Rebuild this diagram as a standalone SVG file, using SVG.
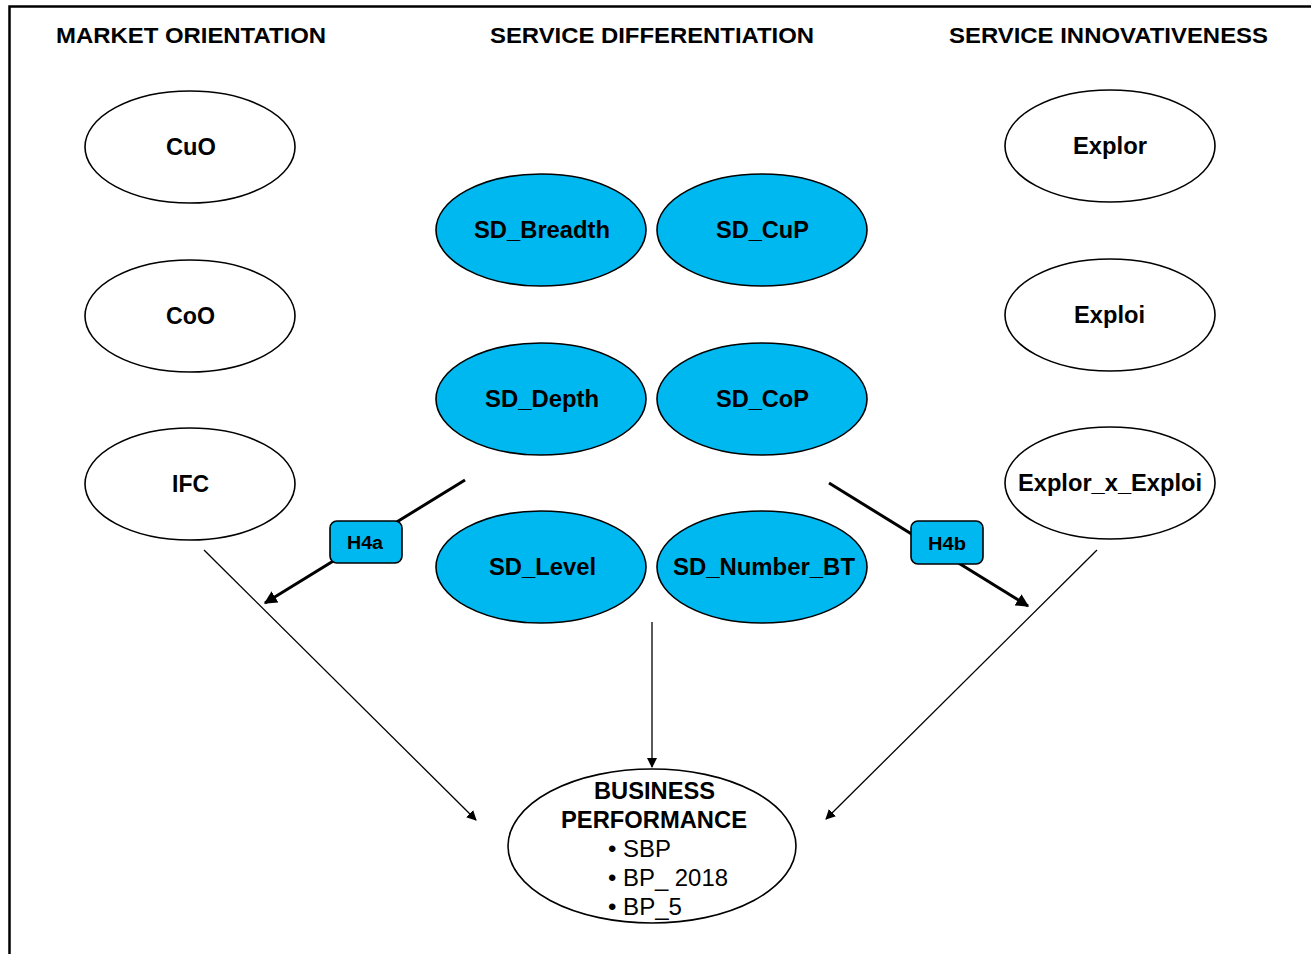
<svg xmlns="http://www.w3.org/2000/svg" width="1311" height="954" viewBox="0 0 1311 954">
  <defs>
    <style>
      .title { font-family: "Liberation Sans", Arial, sans-serif; font-weight: bold; font-size: 22px; text-anchor: middle; fill: #000; }
      .lbl { font-family: "Liberation Sans", Arial, sans-serif; font-weight: bold; font-size: 23px; text-anchor: middle; fill: #000; }
      .item { font-family: "Liberation Sans", Arial, sans-serif; font-size: 23.5px; fill: #000; }
      .hyp { font-family: "Liberation Sans", Arial, sans-serif; font-weight: bold; font-size: 18px; text-anchor: middle; fill: #000; }
      .white { fill: #fff; stroke: #000; stroke-width: 1.6; }
      .blue { fill: #00B8F0; stroke: #000; stroke-width: 1.6; }
      .thin { stroke: #000; stroke-width: 1.3; fill: none; }
      .thick { stroke: #000; stroke-width: 3; fill: none; }
    </style>
    <marker id="arrowThin" viewBox="0 0 10 10" refX="9" refY="5" markerWidth="10" markerHeight="10" markerUnits="userSpaceOnUse" orient="auto">
      <path d="M0,0 L10,5 L0,10 z" fill="#000"/>
    </marker>
    <marker id="arrowThick" viewBox="0 0 10 10" refX="9" refY="5" markerWidth="13" markerHeight="13" markerUnits="userSpaceOnUse" orient="auto">
      <path d="M0,0 L10,5 L0,10 z" fill="#000"/>
    </marker>
  </defs>

  <rect width="1311" height="954" fill="#fff"/>
  <!-- outer frame, open on the right and bottom -->
  <path d="M9.5,954 L9.5,6.5 L1311,6.5" fill="none" stroke="#000" stroke-width="2.5"/>

  <!-- column titles -->
  <text class="title" x="191" y="43" textLength="270" lengthAdjust="spacingAndGlyphs">MARKET ORIENTATION</text>
  <text class="title" x="652" y="43" textLength="324" lengthAdjust="spacingAndGlyphs">SERVICE DIFFERENTIATION</text>
  <text class="title" x="1108.5" y="43" textLength="319" lengthAdjust="spacingAndGlyphs">SERVICE INNOVATIVENESS</text>

  <!-- connectors -->
  <g id="connectors">
    <line class="thin" x1="204" y1="550" x2="476" y2="820" marker-end="url(#arrowThin)"/>
    <line class="thin" x1="652" y1="622" x2="652" y2="767" marker-end="url(#arrowThin)"/>
    <line class="thin" x1="1097" y1="550" x2="826" y2="819" marker-end="url(#arrowThin)"/>
    <line class="thick" x1="465" y1="480" x2="265" y2="603" marker-end="url(#arrowThick)"/>
    <line class="thick" x1="829" y1="483" x2="1028" y2="606" marker-end="url(#arrowThick)"/>
    <g id="h4a">
      <rect class="blue" x="330" y="521" width="72" height="42" rx="7"/>
      <text class="hyp" x="365" y="549" textLength="36" lengthAdjust="spacingAndGlyphs">H4a</text>
    </g>
    <g id="h4b">
      <rect class="blue" x="911" y="521" width="72" height="43" rx="7"/>
      <text class="hyp" x="947" y="550" textLength="38" lengthAdjust="spacingAndGlyphs">H4b</text>
    </g>
  </g>

  <!-- market orientation -->
  <g id="cuo"><ellipse class="white" cx="190" cy="147" rx="105" ry="56"/><text class="lbl" x="191" y="155" textLength="50" lengthAdjust="spacingAndGlyphs">CuO</text></g>
  <g id="coo"><ellipse class="white" cx="190" cy="316" rx="105" ry="56"/><text class="lbl" x="190.5" y="324" textLength="49" lengthAdjust="spacingAndGlyphs">CoO</text></g>
  <g id="ifc"><ellipse class="white" cx="190" cy="484" rx="105" ry="56"/><text class="lbl" x="190.5" y="492" textLength="37" lengthAdjust="spacingAndGlyphs">IFC</text></g>

  <!-- service differentiation -->
  <g id="sd_breadth"><ellipse class="blue" cx="541" cy="230" rx="105" ry="56"/><text class="lbl" x="542" y="238" textLength="136" lengthAdjust="spacingAndGlyphs">SD_Breadth</text></g>
  <g id="sd_cup"><ellipse class="blue" cx="762" cy="230" rx="105" ry="56"/><text class="lbl" x="762.5" y="238" textLength="93" lengthAdjust="spacingAndGlyphs">SD_CuP</text></g>
  <g id="sd_depth"><ellipse class="blue" cx="541" cy="399" rx="105" ry="56"/><text class="lbl" x="542" y="407" textLength="114" lengthAdjust="spacingAndGlyphs">SD_Depth</text></g>
  <g id="sd_cop"><ellipse class="blue" cx="762" cy="399" rx="105" ry="56"/><text class="lbl" x="762.5" y="407" textLength="93" lengthAdjust="spacingAndGlyphs">SD_CoP</text></g>
  <g id="sd_level"><ellipse class="blue" cx="541" cy="567" rx="105" ry="56"/><text class="lbl" x="542.5" y="575" textLength="107" lengthAdjust="spacingAndGlyphs">SD_Level</text></g>
  <g id="sd_number_bt"><ellipse class="blue" cx="762" cy="567" rx="105" ry="56"/><text class="lbl" x="764" y="575" textLength="182" lengthAdjust="spacingAndGlyphs">SD_Number_BT</text></g>

  <!-- service innovativeness -->
  <g id="explor"><ellipse class="white" cx="1110" cy="146" rx="105" ry="56"/><text class="lbl" x="1110" y="154" textLength="74" lengthAdjust="spacingAndGlyphs">Explor</text></g>
  <g id="exploi"><ellipse class="white" cx="1110" cy="315" rx="105" ry="56"/><text class="lbl" x="1109.5" y="323" textLength="71" lengthAdjust="spacingAndGlyphs">Exploi</text></g>
  <g id="explor_x_exploi"><ellipse class="white" cx="1110" cy="483" rx="105" ry="56"/><text class="lbl" x="1110" y="491" textLength="184" lengthAdjust="spacingAndGlyphs">Explor_x_Exploi</text></g>

  <!-- outcome -->
  <g id="business_performance">
    <ellipse class="white" cx="652" cy="846" rx="144" ry="77"/>
    <text class="lbl" x="654.5" y="799" textLength="121" lengthAdjust="spacingAndGlyphs">BUSINESS</text>
    <text class="lbl" x="654" y="828" textLength="186" lengthAdjust="spacingAndGlyphs">PERFORMANCE</text>
    <text class="item" x="608" y="857" textLength="63" lengthAdjust="spacingAndGlyphs">• SBP</text>
    <text class="item" x="608" y="886" textLength="120" lengthAdjust="spacingAndGlyphs">• BP_ 2018</text>
    <text class="item" x="608" y="915" textLength="74" lengthAdjust="spacingAndGlyphs">• BP_5</text>
  </g>
</svg>
